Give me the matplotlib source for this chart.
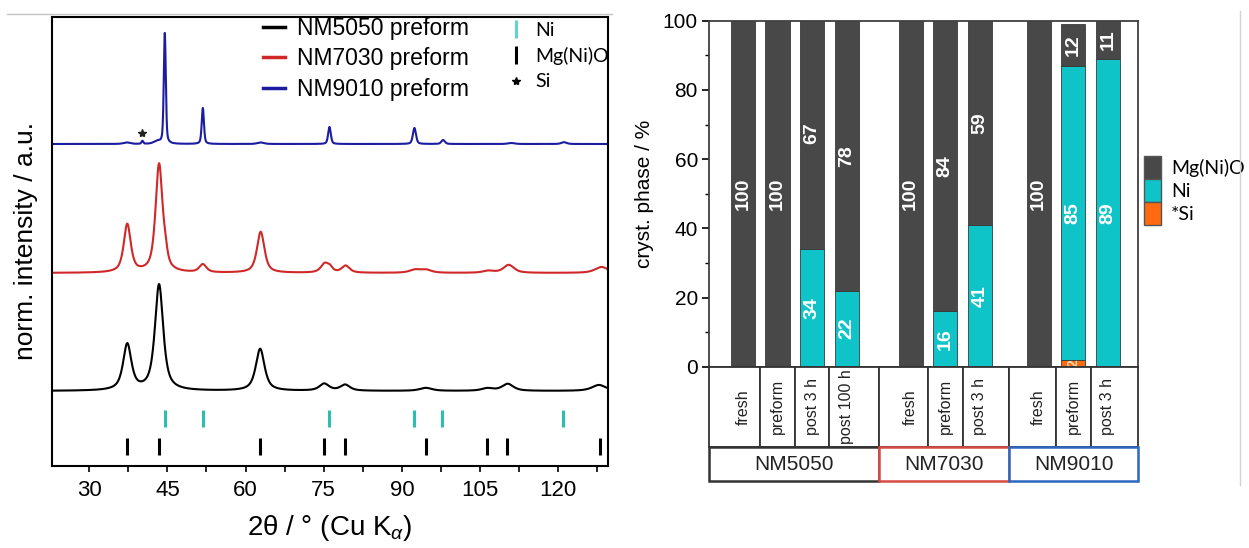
import numpy as np
import matplotlib
matplotlib.use("Agg")
import matplotlib.pyplot as plt
from matplotlib.lines import Line2D
from matplotlib.patches import Patch, Rectangle
from matplotlib.ticker import MultipleLocator

plt.rcParams['font.family'] = ['Liberation Sans', 'DejaVu Sans']
plt.rcParams['mathtext.fontset'] = 'custom'
plt.rcParams['mathtext.rm'] = 'Liberation Sans'
plt.rcParams['mathtext.it'] = 'Liberation Sans:italic'

# --- XRD reflections: position (deg 2theta), height, FWHM ---
nm5050_pos = [37.3, 43.4, 62.8, 75.1, 79.1, 94.6, 106.4, 110.3, 127.8]
nm5050_h = [46, 106, 42, 7, 6, 3, 2.5, 7, 6]
nm5050_w = [1.9, 1.9, 2.0, 2.2, 2.2, 2.8, 2.6, 2.6, 3.2]
nm5050_base = 75

nm7030_pos = [37.3, 43.4, 44.6, 51.8, 62.9, 75.2, 76.2, 79.2, 92.5, 94.6, 106.6, 110.5, 128.3]
nm7030_h = [48, 108, 10, 8, 41, 9, 4, 7, 3, 3, 2, 8, 6]
nm7030_w = [1.6, 1.6, 1.0, 1.6, 1.7, 1.8, 1.2, 1.8, 2.5, 2.5, 2.5, 2.4, 3.0]
nm7030_base = 193

nm9010_pos = [37.2, 40.2, 43.0, 44.5, 51.8, 62.9, 76.1, 92.4, 97.9, 111.0, 121.1]
nm9010_h = [1.5, 3, 2.5, 111, 36, 1.5, 17, 16, 4, 1, 1.8]
nm9010_w = [1.5, 0.4, 1.5, 0.45, 0.5, 1.5, 0.6, 0.7, 0.8, 1.5, 1.2]
nm9010_base = 322

# reference reflections
ni_ref = [44.5, 51.8, 76.0, 92.3, 97.7, 120.9]
mgo_ref = [37.3, 43.4, 62.8, 75.0, 79.1, 94.6, 106.3, 110.2, 128.0]

# --- phase composition from refinement (%) ---
samples = ['fresh', 'preform', 'post 3 h', 'post 100 h',
           'fresh', 'preform', 'post 3 h',
           'fresh', 'preform', 'post 3 h']
groups = ['NM5050', 'NM7030', 'NM9010']
group_sizes = [4, 3, 3]
si_pct = [0, 0, 0, 0, 0, 0, 0, 0, 2, 0]
ni_pct = [0, 0, 34, 22, 0, 16, 41, 0, 85, 89]
mgo_pct = [100, 100, 67, 78, 100, 84, 59, 100, 12, 11]

c_mgo = '#484848'
c_ni = '#0fc4c8'
c_si = '#ff6a10'


def profile(x, pos, h, w, eta):
    y = np.zeros_like(x)
    for p, a, f in zip(pos, h, w):
        d = (x - p) / (f / 2)
        y += a * (eta / (1 + d ** 2) + (1 - eta) * np.exp(-np.log(2) * d ** 2))
    return y


W, H = 1249, 548
fig = plt.figure(figsize=(W / 100, H / 100), dpi=100)


def px_rect(x0, y0, x1, y1):
    return [x0 / W, 1 - y1 / H, (x1 - x0) / W, (y1 - y0) / H]


# ---------------- XRD patterns ----------------
ax = fig.add_axes(px_rect(51.7, 17, 608.3, 466))
tt = np.linspace(22.8, 129.6, 4000)
ax.plot(tt, nm5050_base + profile(tt, nm5050_pos, nm5050_h, nm5050_w, 0.75), color='black', lw=1.5)
ax.plot(tt, nm7030_base + profile(tt, nm7030_pos, nm7030_h, nm7030_w, 0.7), color='#d02828', lw=1.5)
ax.plot(tt, nm9010_base + profile(tt, nm9010_pos, nm9010_h, nm9010_w, 0.45), color='#1c1ca0', lw=1.5)
ax.plot([40.2], [333], marker='*', color='#222222', ms=6, ls='none')

ax.vlines(ni_ref, 39, 56, color='#2bbfb0', lw=2.2)
ax.vlines(mgo_ref, 11, 28, color='black', lw=2.2)

ax.set_xlim(22.8, 129.6)
ax.set_ylim(0, 449)
ax.set_yticks([])
ax.xaxis.set_minor_locator(MultipleLocator(7.5))
ax.set_xticks([30, 45, 60, 75, 90, 105, 120])
ax.tick_params(axis='x', which='both', direction='out', length=4, width=1.2, labelsize=16, pad=6)
for s in ax.spines.values():
    s.set_linewidth(1.5)
ax.set_xlabel(r'2θ / ° (Cu K$_{\alpha}$)', fontsize=20, labelpad=9)
ax.set_ylabel('norm. intensity / a.u.', fontsize=19, labelpad=10)

h1 = [Line2D([], [], color='black', lw=2.5),
      Line2D([], [], color='#d02828', lw=2.5),
      Line2D([], [], color='#1c1ca0', lw=2.5)]
leg1 = ax.legend(h1, ['NM5050 preform', 'NM7030 preform', 'NM9010 preform'],
                 loc='upper left', bbox_to_anchor=(263 / W, 1 - 17 / H),
                 bbox_transform=fig.transFigure, frameon=False, fontsize=16.5,
                 handlelength=0.95, handletextpad=0.55, labelspacing=0.32,
                 borderpad=0, borderaxespad=0)
ax.add_artist(leg1)
h2 = [Line2D([], [], color='#5fd4cc', marker='|', ms=13, mew=2.2, ls='none'),
      Line2D([], [], color='black', marker='|', ms=13, mew=2.2, ls='none'),
      Line2D([], [], color='black', marker='*', ms=6, ls='none')]
ax.legend(h2, ['Ni', 'Mg(Ni)O', 'Si'], loc='upper left',
          bbox_to_anchor=(506 / W, 1 - 22 / H), bbox_transform=fig.transFigure,
          frameon=False, prop={'family': 'Lato', 'size': 14},
          handlelength=1.0, handletextpad=0.5, labelspacing=0.42,
          borderpad=0, borderaxespad=0)

# frame line along the top of the left panel
fig.add_artist(Line2D([7 / W, 612 / W], [1 - 13.5 / H] * 2, color='#c4c4c4', lw=1))
fig.add_artist(Line2D([1240 / W] * 2, [1 - 11 / H, 1 - 485 / H], color='#d4d4d4', lw=1))

# ---------------- phase composition ----------------
xpos = []
x = 0.0
extra = [0.85, 0.7]
for g, n in enumerate(group_sizes):
    for i in range(n):
        xpos.append(x)
        x += 1
    if g < len(extra):
        x += extra[g]
xpos = np.array(xpos)
xlim = (xpos[0] - 0.98, xpos[-1] + 0.88)

bx = fig.add_axes(px_rect(709, 20.7, 1138.3, 366.7))
bw = 0.70
ek = dict(edgecolor='#3a3a3a', linewidth=0.6)
si_a = np.array(si_pct)
ni_a = np.array(ni_pct)
mgo_a = np.array(mgo_pct)
bx.bar(xpos, si_a, bw, color=c_si, **ek)
bx.bar(xpos, ni_a, bw, bottom=si_a, color=c_ni, **ek)
bx.bar(xpos, mgo_a, bw, bottom=si_a + ni_a, color=c_mgo, **ek)

for xi, s, n, m in zip(xpos, si_a, ni_a, mgo_a):
    if s > 0:
        bx.text(xi, s / 2, str(s), rotation=90, ha='center', va='center',
                color='#ffd9b0', fontsize=10, fontweight='bold')
    if n > 0:
        bx.text(xi, s + n / 2, str(n), rotation=90, ha='center', va='center',
                color='white', fontsize=14, fontweight='bold')
    if m > 0:
        bx.text(xi, s + n + m / 2, str(m), rotation=90, ha='center', va='center',
                color='white', fontsize=14, fontweight='bold')

bx.set_xlim(*xlim)
bx.set_ylim(0, 100)
bx.set_xticks([])
bx.yaxis.set_major_locator(MultipleLocator(20))
bx.yaxis.set_minor_locator(MultipleLocator(10))
bx.tick_params(axis='y', which='major', direction='out', length=5, width=1.2, labelsize=15, pad=3)
bx.tick_params(axis='y', which='minor', direction='out', length=3, width=1.0)
for s in bx.spines.values():
    s.set_linewidth(1.3)
    s.set_color('#404040')
bx.set_ylabel('cryst. phase / %', fontsize=15, labelpad=6)

bx.legend([Patch(facecolor=c_mgo, edgecolor='#555555'),
           Patch(facecolor=c_ni, edgecolor='#555555'),
           Patch(facecolor=c_si, edgecolor='#555555')],
          ['Mg(Ni)O', 'Ni', '*Si'], loc='upper left',
          bbox_to_anchor=(1144 / W, 1 - 156 / H), bbox_transform=fig.transFigure,
          frameon=False, prop={'family': 'Lato', 'size': 14},
          handlelength=0.85, handleheight=1.45, handletextpad=0.55, labelspacing=0.0,
          borderpad=0, borderaxespad=0)

# sample / group table below the bars
tx = fig.add_axes(px_rect(709, 366.7, 1138.3, 481.7))
tx.set_xlim(*xlim)
tx.set_ylim(0, 115)
tx.axis('off')

edges = [xlim[0]]
start = 0
for g, n in enumerate(group_sizes):
    idx = range(start, start + n)
    for i in list(idx)[:-1]:
        edges.append((xpos[i] + xpos[i + 1]) / 2)
    last = start + n - 1
    if last + 1 < len(xpos):
        edges.append((xpos[last] + xpos[last + 1]) / 2)
    start += n
edges.append(xlim[1])

for i, lab in enumerate(samples):
    tx.add_patch(Rectangle((edges[i], 35), edges[i + 1] - edges[i], 80,
                           facecolor='white', edgecolor='#333333', lw=1.3, clip_on=False))
    tx.text(xpos[i], 75, lab, rotation=90, ha='center', va='center',
            fontsize=11.5, color='#222222')

group_cols = ['#333333', '#d64a44', '#2c68c0']
start = 0
for g, n in enumerate(group_sizes):
    left = edges[start]
    right = edges[start + n]
    tx.add_patch(Rectangle((left, 0.5), right - left, 34, facecolor='white',
                           edgecolor=group_cols[g], lw=1.8, clip_on=False))
    tx.text((left + right) / 2, 17.5, groups[g], ha='center', va='center',
            fontsize=15, color='#222222')
    start += n

fig.savefig('out.png', dpi=100, facecolor='white')
